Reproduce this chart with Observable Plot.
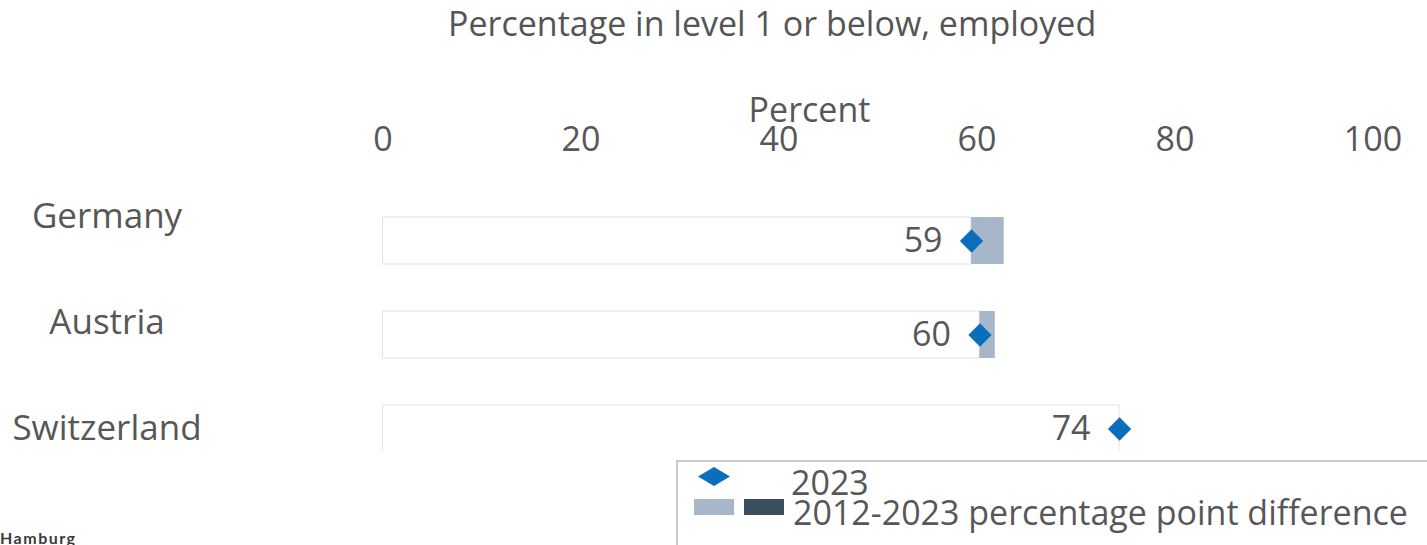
<!DOCTYPE html>
<html><head><meta charset="utf-8">
<script src="https://cdn.jsdelivr.net/npm/d3@7"></script>
<script src="https://cdn.jsdelivr.net/npm/@observablehq/plot@0.6"></script>
<style>
body{margin:0;background:#fff;font-family:"Open Sans",sans-serif;}
#wrap{position:relative;width:1427px;height:545px;overflow:hidden;background:#fff;}
#title{height:70px;padding-left:448px;font-size:34px;color:#555;line-height:46px;white-space:nowrap;}
#chart{position:relative;}
#labels{position:absolute;left:0;top:0;}
#legend{position:absolute;left:676px;top:460px;width:800px;height:120px;border:2px solid #c9c9c9;box-sizing:border-box;}
.lt{position:absolute;font-size:34px;line-height:34px;color:#575757;white-space:nowrap;}
.sw{position:absolute;}
#hamburg{position:absolute;left:0;top:528px;font-family:Lato,sans-serif;font-weight:bold;font-size:16px;letter-spacing:1.5px;color:#3a3a3a;line-height:19px;}
</style>
</head><body>
<div id="wrap">
  <div id="title">Percentage in level 1 or below, employed</div>
  <div id="chart"><div id="labels"></div></div>
  <div id="legend"></div>
  <svg class="sw" style="left:698px;top:467px" width="32" height="19"><polygon points="16,0 32,9.5 16,19 0,9.5" fill="#0a6ebd"/></svg>
  <div class="sw" style="left:694px;top:499px;width:40px;height:16px;background:#a6b7c9"></div>
  <div class="sw" style="left:744px;top:499px;width:40px;height:16px;background:#3a4f5c"></div>
  <div class="lt" style="left:791px;top:465px">2023</div>
  <div class="lt" style="left:793px;top:495px">2012-2023 percentage point difference</div>
  <div id="hamburg">Hamburg</div>
</div>
<script>
const countries = ["Germany", "Austria", "Switzerland"];
const values2023 = [59.45, 60.3, 74.4];
const diff2012_2023 = [3.3, 1.55, null];
const xTicks = [0, 20, 40, 60, 80, 100];

const data = countries.map((c, i) => ({country: c, value: values2023[i], diff: diff2012_2023[i]}));
const textColor = "#575757";

const chart = Plot.plot({
  width: 1427,
  height: 381,
  marginLeft: 382.5,
  marginRight: 54.5,
  marginTop: 99,
  marginBottom: 0,
  style: {fontFamily: "Open Sans", color: textColor, overflow: "hidden", background: "transparent"},
  x: {domain: [0, 100], axis: null},
  y: {domain: countries, range: [100, 429], padding: 0.5, axis: null},
  marks: [
    Plot.axisX(xTicks, {anchor: "top", tickSize: 0, tickPadding: 19, fontSize: 34, label: null, fill: textColor}),
    Plot.text(["Percent"], {frameAnchor: "top", dx: -68.5, dy: -48, lineAnchor: "bottom", fontSize: 34, fill: textColor}),
    Plot.barX(data, {x: "value", y: "country", fill: "white", stroke: "#e3e3e3", strokeWidth: 1}),
    Plot.barX(data.filter(d => d.diff != null), {x1: "value", x2: d => d.value + d.diff, y: "country", fill: "#a6b7c9"}),
    Plot.dot(data, {x: "value", y: "country", symbol: "diamond2", r: 10.5, fill: "#0a6ebd"}),
    Plot.text(data, {x: "value", y: "country", text: d => d3.format(".0f")(d.value), dx: -29, textAnchor: "end", fontSize: 34, fill: textColor})
  ]
});
document.getElementById("chart").appendChild(chart);

// Country labels: their own point scale (the source spaces them wider than the bars)
const labels = Plot.plot({
  width: 382,
  height: 381,
  margin: 0,
  style: {fontFamily: "Open Sans", color: textColor, background: "transparent"},
  x: {axis: null},
  y: {type: "point", domain: countries, range: [145, 358], padding: 0, axis: null},
  marks: [
    Plot.text(data, {y: "country", text: "country", frameAnchor: "left", dx: 106.5, textAnchor: "middle", fontSize: 35, fill: textColor})
  ]
});
document.getElementById("labels").appendChild(labels);
</script>
</body></html>
